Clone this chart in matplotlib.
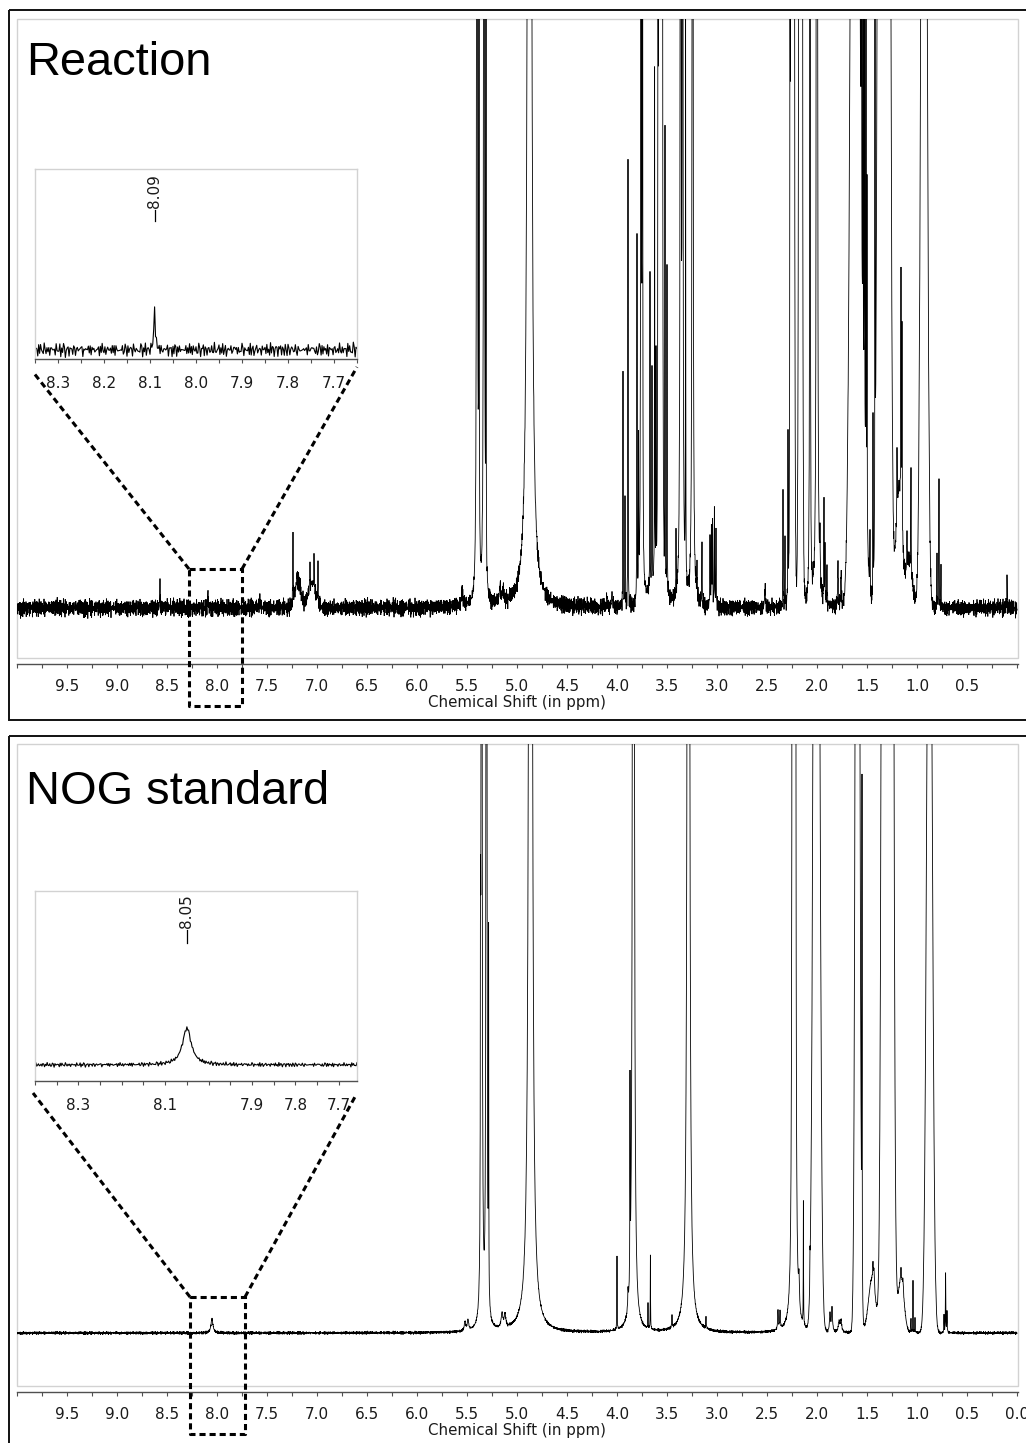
import numpy as np
import matplotlib
matplotlib.use("Agg")
import matplotlib.pyplot as plt
from matplotlib.patches import Rectangle
from matplotlib.lines import Line2D
from matplotlib.transforms import blended_transform_factory

W, H = 1026, 1443  # canvas in pixels (dpi 100)

# ---------------------------------------------------------------------------
# Peak tables.  Heights are in % of the displayed vertical range
# (0 = baseline, 100 = top of the plotting box); widths in ppm.
# Narrow lines are Lorentzian (half width), broad envelopes Gaussian (sigma).
# ---------------------------------------------------------------------------
REACTION_LINE_PPM = [8.57, 8.09, 7.57, 7.24, 7.20, 7.07, 7.03, 6.99, 5.55, 5.40,
                     5.38, 5.33, 5.31, 5.17, 5.14, 4.875, 4.10, 4.05, 3.94, 3.92,
                     3.89, 3.80, 3.784, 3.76, 3.746, 3.67, 3.65, 3.624, 3.61, 3.59,
                     3.576, 3.56, 3.546, 3.52, 3.50, 3.41, 3.364, 3.344, 3.314, 3.244,
                     3.20, 3.15, 3.07, 3.056, 3.044, 3.026, 3.01, 2.52, 2.34, 2.32,
                     2.29, 2.27, 2.256, 2.24, 2.226, 2.18, 2.16, 2.146, 2.07, 2.008,
                     2.00, 1.97, 1.93, 1.92, 1.90, 1.79, 1.76, 1.556, 1.54, 1.526,
                     1.51, 1.50, 1.47, 1.44, 1.42, 1.20, 1.16, 1.15, 1.10, 1.06,
                     0.956, 0.80, 0.78, 0.76, 0.10]
REACTION_LINE_HEIGHT = [4.4, 3.9, 1.8, 12.0, 2.5, 4.5, 5.5, 6.5, 2.5, 400,
                        150, 400, 95, 2.8, 2.2, 2000, 2.0, 2.5, 39, 17,
                        76, 62, 26, 400, 300, 54, 37, 86, 38, 150,
                        200, 200, 150, 78, 55, 10.7, 400, 300, 94, 500,
                        6, 9.5, 11, 14, 15, 16, 12, 3, 20, 12,
                        27, 150, 200, 180, 120, 160, 200, 150, 400, 60,
                        600, 7, 18, 10, 8, 7, 6, 150, 120, 200,
                        100, 60, 10, 30, 85, 12, 40, 35, 6, 18,
                        100, 8, 22, 7, 5.5]
REACTION_LINE_HWHM = [0.0015, 0.0015, 0.005, 0.002, 0.002, 0.0015, 0.0015, 0.0015, 0.008, 0.003,
                      0.002, 0.003, 0.0015, 0.008, 0.008, 0.0057, 0.004, 0.004, 0.0015, 0.0015,
                      0.0015, 0.0015, 0.0015, 0.002, 0.002, 0.0015, 0.0015, 0.0015, 0.0015, 0.0015,
                      0.0015, 0.0015, 0.0015, 0.0015, 0.0015, 0.0015, 0.003, 0.003, 0.0015, 0.003,
                      0.002, 0.002, 0.002, 0.002, 0.002, 0.002, 0.002, 0.005, 0.0015, 0.0015,
                      0.002, 0.0015, 0.0015, 0.0015, 0.0015, 0.0015, 0.0015, 0.0015, 0.002, 0.0015,
                      0.003, 0.003, 0.0015, 0.0015, 0.002, 0.004, 0.004, 0.0015, 0.0015, 0.0015,
                      0.0015, 0.0015, 0.002, 0.0015, 0.0015, 0.0015, 0.002, 0.002, 0.002, 0.0015,
                      0.0015, 0.002, 0.0015, 0.002, 0.0015]
REACTION_BROAD_PPM = [7.19, 7.05, 3.60, 3.565, 2.245, 2.165, 1.62, 1.53, 1.33, 1.18, 1.08, 0.93]
REACTION_BROAD_HEIGHT = [4.5, 4, 3.5, 300, 300, 300, 300, 18, 1500, 20, 8, 250]
REACTION_BROAD_SIGMA = [0.03, 0.04, 0.08, 0.012, 0.012, 0.012, 0.0337, 0.03, 0.030, 0.03, 0.03, 0.0244]

NOG_LINE_PPM = [8.05, 5.52, 5.49, 5.365, 5.354, 5.305, 5.284, 5.15, 5.12, 4.865,
                4.00, 3.89, 3.87, 3.836, 3.69, 3.666, 3.45, 3.286, 3.11, 2.39,
                2.37, 2.244, 2.23, 2.216, 2.18, 2.136, 2.07, 1.87, 1.85, 1.78,
                1.76, 1.55, 1.44, 1.43, 1.16, 1.14, 1.06, 1.04, 1.02, 0.73,
                0.714, 0.70]
NOG_LINE_HEIGHT = [2.4, 1.6, 1.8, 56, 500, 600, 60, 2.5, 2.2, 2000,
                   12.7, 3, 33, 1500, 4.3, 12.7, 2, 1500, 2, 3.5,
                   3.0, 600, 500, 400, 5, 21, 4, 3, 4, 1.8,
                   2, 85, 3, 3, 2, 2, 2.5, 9, 2.5, 3,
                   10, 3.5]
NOG_LINE_HWHM = [0.012, 0.008, 0.008, 0.0015, 0.003, 0.0025, 0.0015, 0.01, 0.01, 0.005,
                 0.0015, 0.003, 0.0015, 0.003, 0.0015, 0.0015, 0.003, 0.004, 0.003, 0.004,
                 0.004, 0.003, 0.003, 0.003, 0.005, 0.0015, 0.0015, 0.006, 0.006, 0.008,
                 0.008, 0.0015, 0.004, 0.004, 0.004, 0.004, 0.002, 0.0015, 0.002, 0.002,
                 0.002, 0.002]
NOG_BROAD_PPM = [2.005, 1.595, 1.45, 1.295, 1.16, 0.875]
NOG_BROAD_HEIGHT = [255, 280, 9, 1560, 9, 162]
NOG_BROAD_SIGMA = [0.0256, 0.0174, 0.035, 0.0278, 0.03, 0.0255]

# baseline noise texture (two hand-written sequences of different length)
NOISE_A = [0.31, -0.72, 0.15, 0.88, -0.44, -0.09, 0.63, -0.95, 0.27, 0.52, -0.33, -0.81,
           0.47, 0.06, -0.58, 0.92, -0.21, 0.39, -0.67, 0.11, 0.74, -0.49, -0.13, 0.58,
           -0.86, 0.35, 0.02, -0.41, 0.69, -0.27, 0.83, -0.62, 0.19, -0.04, 0.55, -0.91,
           0.43, 0.24, -0.36, 0.78, -0.55, 0.08, -0.19, 0.66, -0.77, 0.29, 0.97, -0.46,
           0.13, -0.69, 0.41, -0.02, 0.59, -0.88, 0.22, 0.71, -0.31, -0.57, 0.37, 0.09,
           -0.74, 0.85, -0.16, 0.48, -0.64, 0.04, 0.61, -0.39, -0.83, 0.26, 0.76, -0.23,
           0.33, -0.98, 0.51, -0.07, 0.18, -0.52, 0.89, -0.35, 0.14, -0.71, 0.45, 0.67,
           -0.18, -0.49, 0.28, -0.93, 0.57, 0.03, -0.26, 0.81, -0.61, 0.21, -0.12, 0.73, -0.44]
NOISE_B = [-0.53, 0.24, 0.81, -0.17, -0.68, 0.42, 0.07, -0.89, 0.36, 0.62, -0.28, 0.95,
           -0.46, -0.11, 0.53, -0.74, 0.19, 0.87, -0.32, -0.59, 0.48, 0.01, -0.83, 0.68,
           -0.14, 0.29, -0.97, 0.44, 0.76, -0.38, 0.12, -0.63, 0.91, -0.22, -0.51, 0.34,
           0.58, -0.86, 0.05, 0.72, -0.43, -0.18, 0.65, -0.79, 0.27, 0.49, -0.04, -0.92,
           0.38, 0.84, -0.26, -0.66, 0.17, 0.55, -0.37, 0.93, -0.71, 0.09, -0.45, 0.63,
           -0.12, 0.31, -0.84, 0.46, 0.78, -0.55, -0.21, 0.39, -0.69, 0.16, 0.86, -0.34,
           0.02, -0.77, 0.52, 0.23, -0.48, 0.71, -0.93, 0.14, 0.43, -0.15, -0.62, 0.88]

PANEL_TITLES = ["Reaction", "NOG standard"]
INSET_LABELS = ["8.09", "8.05"]
INSET_LABEL_PPM = [8.09, 8.05]
INSET_TICKLABELS = [["8.3", "8.2", "8.1", "8.0", "7.9", "7.8", "7.7"],
                    ["8.3", "8.1", "7.9", "7.8", "7.7"]]
XLABEL = "Chemical Shift (in ppm)"


def spectrum(ppm, lc, lh, lw, bc, bh, bs):
    y = np.zeros_like(ppm)
    for c, h, g in zip(lc, lh, lw):
        y += h * g * g / (g * g + (ppm - c) ** 2)
    for c, h, s in zip(bc, bh, bs):
        y += h * np.exp(-((ppm - c) ** 2) / (2 * s * s))
    return y


def texture(n):
    a = np.asarray(NOISE_A)
    b = np.asarray(NOISE_B)
    i = np.arange(n)
    return 0.5 * (a[i % len(a)] + b[i % len(b)])


ppm = np.arange(0.0, 10.0001, 0.002)
noise = texture(len(ppm))
sig_reaction = spectrum(ppm, REACTION_LINE_PPM, REACTION_LINE_HEIGHT, REACTION_LINE_HWHM,
                        REACTION_BROAD_PPM, REACTION_BROAD_HEIGHT, REACTION_BROAD_SIGMA)
sig_nog = spectrum(ppm, NOG_LINE_PPM, NOG_LINE_HEIGHT, NOG_LINE_HWHM,
                   NOG_BROAD_PPM, NOG_BROAD_HEIGHT, NOG_BROAD_SIGMA)

plt.rcParams["font.family"] = ["DejaVu Sans"]
fig = plt.figure(figsize=(W / 100, H / 100), dpi=100)
fig.patch.set_facecolor("white")

AX_COL = "#505050"
BOX_COL = "#d2d2d2"
TXT_COL = "#1a1a1a"


def px_rect(l, t, r, b):
    return [l / W, 1 - b / H, (r - l) / W, (b - t) / H]


def style_axis(ax, ticks, labels, pad):
    for s in ("top", "left", "right"):
        ax.spines[s].set_visible(False)
    ax.set_yticks([])
    ax.set_xticks(ticks)
    ax.set_xticklabels(labels)
    ax.tick_params(axis="x", direction="out", length=4 * 0.72, width=0.8,
                   color=AX_COL, labelsize=11, labelcolor=TXT_COL, pad=pad)
    ax.spines["bottom"].set_color(AX_COL)
    ax.spines["bottom"].set_linewidth(1.0)


def main_panel(top, box_bottom, baseline, signal, amp, show_zero):
    ax = fig.add_axes(px_rect(17, top, 1018, box_bottom))
    span = baseline - top
    ax.plot(ppm, signal + amp * noise, color="black", lw=0.6, solid_joinstyle="miter")
    ticks = np.arange(0, 10.001, 0.25)
    labels = []
    for v in ticks:
        half = abs(v * 2 - round(v * 2)) < 1e-6
        if half and 0 < v < 10:
            labels.append(f"{v:.1f}")
        elif half and v == 0 and show_zero:
            labels.append("0.0")
        else:
            labels.append("")
    style_axis(ax, ticks, labels, pad=8.0)
    ax.set_xlim(10.0, -0.01)
    ax.set_ylim(-(box_bottom - baseline) / span * 100, 100)
    ax.spines["bottom"].set_position(("outward", 6 * 0.72))
    ax.add_patch(Rectangle((0, 0), 1, 1, transform=ax.transAxes, fill=False,
                           ec=BOX_COL, lw=1.0, clip_on=False, zorder=0))
    ax.set_xlabel(XLABEL, fontsize=10.8, color=TXT_COL, labelpad=0.5)
    return ax


def inset_panel(top, bottom, x_left, x_right, baseline, px_per_unit, signal, amp,
                tick_labels, label_txt, label_ppm, label_px):
    ax = fig.add_axes(px_rect(35, top, 357, bottom))
    m = (ppm >= x_right - 0.01) & (ppm <= x_left + 0.01)
    ax.plot(ppm[m], signal[m] + amp * noise[m], color="black", lw=0.8)
    ticks = np.round(np.arange(7.65, x_left + 0.001, 0.05), 3)
    labels = []
    for v in ticks:
        s = f"{v:.1f}"
        labels.append(s if (abs(v * 10 - round(v * 10)) < 1e-6 and s in tick_labels) else "")
    style_axis(ax, ticks, labels, pad=9.0)
    ax.set_xlim(x_left, x_right)
    lo = -(bottom - baseline) / px_per_unit
    ax.set_ylim(lo, lo + (bottom - top) / px_per_unit)
    for s in ("top", "left", "right"):
        ax.spines[s].set_visible(True)
        ax.spines[s].set_color(BOX_COL)
        ax.spines[s].set_linewidth(1.0)
    ax.set_facecolor("white")
    tr = blended_transform_factory(ax.transData, ax.transAxes)
    ht = bottom - top
    line_lo, line_hi, text_bottom = label_px
    ax.add_line(Line2D([label_ppm, label_ppm],
                       [(bottom - line_lo) / ht, (bottom - line_hi) / ht],
                       transform=tr, color="black", lw=0.9))
    ax.text(label_ppm, (bottom - text_bottom) / ht, label_txt,
            transform=tr, rotation=90, ha="center", va="bottom", fontsize=11, color=TXT_COL)
    return ax


ax1 = main_panel(19, 658, 608, sig_reaction, 1.9, False)
ax2 = main_panel(744, 1386, 1333, sig_nog, 0.35, True)

in1 = inset_panel(169, 359, 8.35, 7.65, 350, 12.05, sig_reaction, 0.7,
                  INSET_TICKLABELS[0], INSET_LABELS[0], INSET_LABEL_PPM[0], (221, 210, 208))
in2 = inset_panel(891, 1081, 8.40, 7.658, 1065, 15.4, sig_nog, 0.17,
                  INSET_TICKLABELS[1], INSET_LABELS[1], INSET_LABEL_PPM[1], (943, 930, 928))

# overlay in pixel coordinates: panel frames, titles and zoom guides
ov = fig.add_axes([0, 0, 1, 1], facecolor="none", zorder=10)
ov.set_xlim(0, W)
ov.set_ylim(H, 0)
ov.axis("off")

for (t, b) in [(10, 720), (736, 1452)]:
    ov.add_patch(Rectangle((9, t), 1040, b - t, fill=False, ec="#111111", lw=1.4))

for title, base in zip(PANEL_TITLES, [75, 804]):
    ov.text(26, base, title, fontsize=33.8, family="Liberation Sans", color="black",
            va="baseline", ha="left")

dash = dict(color="black", lw=2.2, linestyle=(0, (2.0, 1.3)), dash_capstyle="butt")
guides = [
    ((189, 569, 242, 706), (33, 372), (357, 367)),
    ((190, 1297, 245, 1434), (33, 1093), (356, 1095)),
]
for (l, t, r, b), pl, pr in guides:
    ov.plot([l, r, r, l, l], [t, t, b, b, t], **dash)
    ov.plot([l, pl[0]], [t, pl[1]], **dash)
    ov.plot([r, pr[0]], [t, pr[1]], **dash)

fig.savefig("out.png", dpi=100, facecolor="white")
